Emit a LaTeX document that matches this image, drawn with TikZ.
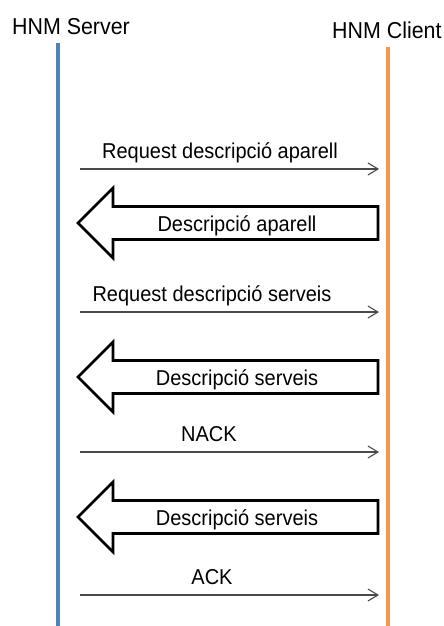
\documentclass[tikz,border=0pt]{standalone}
\usepackage{fontspec}
\setmainfont[FakeStretch=0.93]{Liberation Sans}
\usetikzlibrary{arrows.meta}
\definecolor{srvblue}{HTML}{4F81BD}
\definecolor{cliorange}{HTML}{F79646}
\definecolor{msggray}{HTML}{4A4A4A}

\begin{document}
\begin{tikzpicture}[x=1pt,y=-1pt,
  lifeline/.style={line width=3.6pt},
  msg/.style={draw=msggray, line width=1.1pt,
    -{Straight Barb[length=10pt,width=12pt,line width=1.1pt]}},
  msglabel/.style={font=\fontsize{21.5}{24}\selectfont, anchor=base, inner sep=0pt},
  title/.style={font=\fontsize{23}{26}\selectfont, anchor=base west, inner sep=0pt},
  blockarrow/.style={draw=black, line width=2.8pt, fill=white, line join=miter}]
\useasboundingbox (0,0) rectangle (444,626);

% participants
\node[title] (srv) at (12,35) {HNM Server};
\node[title] (cli) at (332,39) {HNM Client};

% lifelines
\coordinate (srvTop) at (58,43);
\coordinate (srvBot) at (58,626);
\coordinate (cliTop) at (388,47);
\coordinate (cliBot) at (388,626);
\draw[lifeline, srvblue] (srvTop) -- (srvBot);
\draw[lifeline, cliorange] (cliTop) -- (cliBot);

% requests from server to client
\foreach \ya/\xl/\lbl/\nm in {169/220/Request descripció aparell/m1,
                              312/212/Request descripció serveis/m2,
                              452/209/NACK/m3,
                              595/212/ACK/m4}{
  \coordinate (\nm s) at (80,\ya);
  \coordinate (\nm e) at (379,\ya);
  \draw[msg] (\nm s) -- (\nm e);
  \node[msglabel] (\nm l) at (\xl,\ya-11) {\lbl};
}

% replies from client to server
\foreach \yc/\lbl/\nm in {223/Descripció aparell/b1,
                          377/Descripció serveis/b2,
                          517/Descripció serveis/b3}{
  \draw[blockarrow] (378,\yc-16.5) -- (113,\yc-16.5) -- (113,\yc-35)
    -- (78,\yc) -- (113,\yc+35) -- (113,\yc+16.5) -- (378,\yc+16.5) -- cycle;
  \node[msglabel] (\nm l) at (237,\yc+8) {\lbl};
}
\end{tikzpicture}
\end{document}
